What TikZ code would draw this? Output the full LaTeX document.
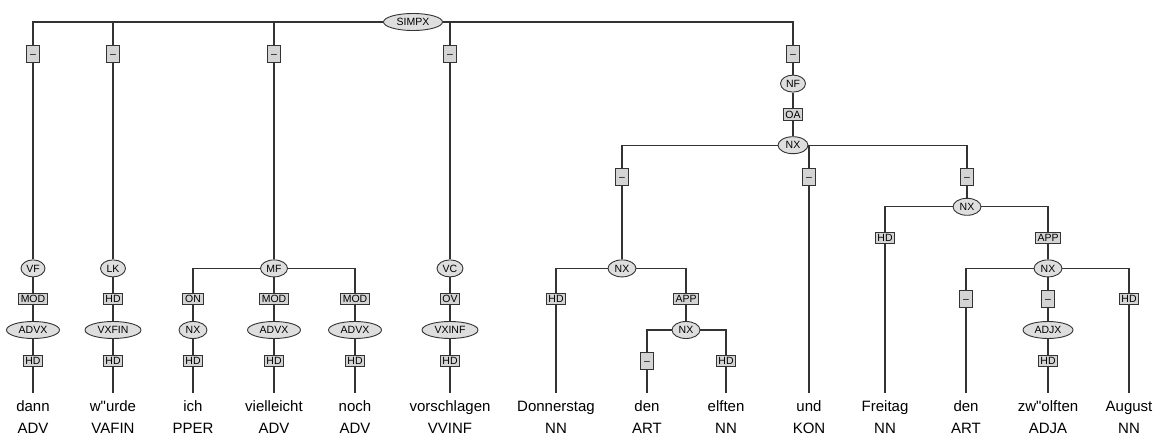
\documentclass[tikz,border=0pt]{standalone}
\usepackage{fontspec}
\setmainfont{Liberation Sans}[Ligatures=TeXOff]
\usetikzlibrary{shapes.geometric}
\newcommand{\labfont}{\fontsize{10.5}{12}\selectfont}
\newcommand{\wrdfont}{\fontsize{15}{18}\selectfont}
\tikzset{
  edge/.style={line width=1.1pt, draw=black!80},
  cat/.style={ellipse, draw=black!80, line width=0.9pt, fill=black!13, minimum height=17pt, inner sep=0pt, minimum width=#1, font=\labfont, text height=7.4pt, text depth=0pt},
  fn/.style={rectangle, draw=black!80, line width=0.9pt, fill=black!17, inner xsep=2.3pt, inner ysep=1.8pt, font=\labfont, text height=7.6pt, text depth=0pt},
  nofn/.style={fn, minimum width=13pt, minimum height=17pt, inner sep=0pt},
  word/.style={anchor=base, font=\wrdfont, text height=11.5pt, inner ysep=6.5pt},
  tag/.style={anchor=base, font=\wrdfont},
}
\begin{document}
\begin{tikzpicture}[x=1pt,y=-1pt]
\useasboundingbox (0,0) rectangle (1158,435);
\def\La{22}\def\Lb{53.5}\def\Lc{83.6}\def\Ld{114.4}\def\Le{145.2}\def\Lf{176.5}
\def\Lg{206.8}\def\Lh{237.6}\def\Li{268.4}\def\Lj{299.2}\def\Lk{330}\def\Ll{360.8}
% top
\node[cat=59] (simpx) at (413,\La) {SIMPX};
\node[nofn] (d1) at (33,\Lb) {–};
\node[nofn] (d2) at (113,\Lb) {–};
\node[nofn] (d3) at (274,\Lb) {–};
\node[nofn] (d4) at (450,\Lb) {–};
\node[nofn] (d5) at (793,\Lb) {–};
% VF
\node[cat=24] (vf) at (33,\Li) {VF};
\node[fn] (mod1) at (33,\Lj) {MOD};
\node[cat=53] (advx1) at (33,\Lk) {ADVX};
\node[fn] (hd1) at (33,\Ll) {HD};
% LK
\node[cat=25] (lk) at (113,\Li) {LK};
\node[fn] (hd2) at (113,\Lj) {HD};
\node[cat=56] (vxfin) at (113,\Lk) {VXFIN};
\node[fn] (hd3) at (113,\Ll) {HD};
% MF
\node[cat=27] (mf) at (274,\Li) {MF};
\node[fn] (on) at (193,\Lj) {ON};
\node[cat=28] (nx1) at (193,\Lk) {NX};
\node[fn] (hd4) at (193,\Ll) {HD};
\node[fn] (mod2) at (274,\Lj) {MOD};
\node[cat=53] (advx2) at (274,\Lk) {ADVX};
\node[fn] (hd5) at (274,\Ll) {HD};
\node[fn] (mod3) at (355,\Lj) {MOD};
\node[cat=53] (advx3) at (355,\Lk) {ADVX};
\node[fn] (hd6) at (355,\Ll) {HD};
% VC
\node[cat=26] (vc) at (450,\Li) {VC};
\node[fn] (ov) at (450,\Lj) {OV};
\node[cat=56] (vxinf) at (450,\Lk) {VXINF};
\node[fn] (hd7) at (450,\Ll) {HD};
% NF
\node[cat=25] (nf) at (793,\Lc) {NF};
\node[fn] (oa) at (793,\Ld) {OA};
\node[cat=30] (nx2) at (793,\Le) {NX};
\node[nofn] (d6) at (622,\Lf) {–};
\node[nofn] (d7) at (809,\Lf) {–};
\node[nofn] (d8) at (967,\Lf) {–};
% left NX
\node[cat=28] (nx3) at (622,\Li) {NX};
\node[fn] (hd8) at (556,\Lj) {HD};
\node[fn] (app1) at (686,\Lj) {APP};
\node[cat=28] (nx4) at (686,\Lk) {NX};
\node[nofn] (d9) at (647,\Ll) {–};
\node[fn] (hd9) at (726,\Ll) {HD};
% right NX
\node[cat=28] (nx5) at (967,\Lg) {NX};
\node[fn] (hd10) at (885,\Lh) {HD};
\node[fn] (app2) at (1048,\Lh) {APP};
\node[cat=28] (nx6) at (1048,\Li) {NX};
\node[nofn] (d10) at (966,\Lj) {–};
\node[nofn] (d11) at (1048,\Lj) {–};
\node[fn] (hd11) at (1129,\Lj) {HD};
\node[cat=50] (adjx) at (1048,\Lk) {ADJX};
\node[fn] (hd12) at (1048,\Ll) {HD};
% words
\node[word] (w1) at (33,411) {dann};
\node[word] (w2) at (113,411) {w"urde};
\node[word] (w3) at (193,411) {ich};
\node[word] (w4) at (274,411) {vielleicht};
\node[word] (w5) at (355,411) {noch};
\node[word] (w6) at (450,411) {vorschlagen};
\node[word] (w7) at (556,411) {Donnerstag};
\node[word] (w8) at (647,411) {den};
\node[word] (w9) at (726,411) {elften};
\node[word] (w10) at (809,411) {und};
\node[word] (w11) at (885,411) {Freitag};
\node[word] (w12) at (966,411) {den};
\node[word] (w13) at (1048,411) {zw"olften};
\node[word] (w14) at (1129,411) {August};
% tags
\node[tag] (t1) at (33,433) {ADV};
\node[tag] (t2) at (113,433) {VAFIN};
\node[tag] (t3) at (193,433) {PPER};
\node[tag] (t4) at (274,433) {ADV};
\node[tag] (t5) at (355,433) {ADV};
\node[tag] (t6) at (450,433) {VVINF};
\node[tag] (t7) at (556,433) {NN};
\node[tag] (t8) at (647,433) {ART};
\node[tag] (t9) at (726,433) {NN};
\node[tag] (t10) at (809,433) {KON};
\node[tag] (t11) at (885,433) {NN};
\node[tag] (t12) at (966,433) {ART};
\node[tag] (t13) at (1048,433) {ADJA};
\node[tag] (t14) at (1129,433) {NN};
% edges
\draw[edge] (simpx) -| (d1);
\draw[edge] (simpx) -| (d2);
\draw[edge] (simpx) -| (d3);
\draw[edge] (simpx) -| (d4);
\draw[edge] (simpx) -| (d5);
\draw[edge] (d1) -- (vf) -- (mod1) -- (advx1) -- (hd1) -- (w1);
\draw[edge] (d2) -- (lk) -- (hd2) -- (vxfin) -- (hd3) -- (w2);
\draw[edge] (d3) -- (mf);
\draw[edge] (mf) -| (on);
\draw[edge] (mf) -- (mod2);
\draw[edge] (mf) -| (mod3);
\draw[edge] (on) -- (nx1) -- (hd4) -- (w3);
\draw[edge] (mod2) -- (advx2) -- (hd5) -- (w4);
\draw[edge] (mod3) -- (advx3) -- (hd6) -- (w5);
\draw[edge] (d4) -- (vc) -- (ov) -- (vxinf) -- (hd7) -- (w6);
\draw[edge] (d5) -- (nf) -- (oa) -- (nx2);
\draw[edge] (nx2) -| (d6);
\draw[edge] (nx2) -| (d7);
\draw[edge] (nx2) -| (d8);
\draw[edge] (d6) -- (nx3);
\draw[edge] (nx3) -| (hd8);
\draw[edge] (nx3) -| (app1);
\draw[edge] (hd8) -- (w7);
\draw[edge] (app1) -- (nx4);
\draw[edge] (nx4) -| (d9);
\draw[edge] (nx4) -| (hd9);
\draw[edge] (d9) -- (w8);
\draw[edge] (hd9) -- (w9);
\draw[edge] (d7) -- (w10);
\draw[edge] (d8) -- (nx5);
\draw[edge] (nx5) -| (hd10);
\draw[edge] (nx5) -| (app2);
\draw[edge] (hd10) -- (w11);
\draw[edge] (app2) -- (nx6);
\draw[edge] (nx6) -| (d10);
\draw[edge] (nx6) -- (d11);
\draw[edge] (nx6) -| (hd11);
\draw[edge] (d10) -- (w12);
\draw[edge] (d11) -- (adjx) -- (hd12) -- (w13);
\draw[edge] (hd11) -- (w14);
\end{tikzpicture}
\end{document}
